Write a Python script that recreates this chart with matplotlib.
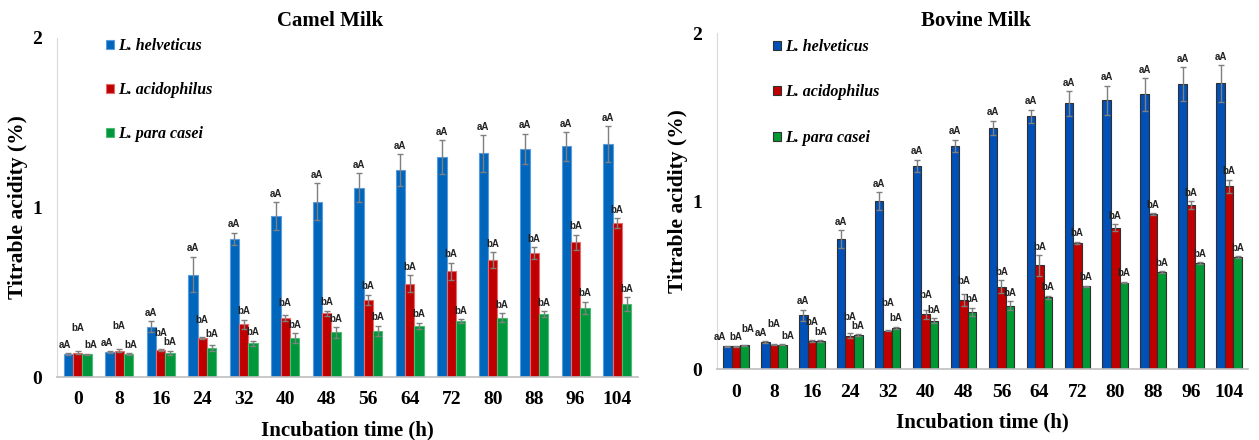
import matplotlib
matplotlib.use("Agg")
import matplotlib.pyplot as plt
import numpy as np

# ---------------- data ----------------
hours = ["0", "8", "16", "24", "32", "40", "48", "56", "64", "72", "80", "88", "96", "104"]
series_names = ["L. helveticus", "L. acidophilus", "L. para casei"]

camel_helv = [0.135, 0.149, 0.297, 0.604, 0.816, 0.950, 1.034, 1.117, 1.220, 1.297, 1.319, 1.347, 1.360, 1.376]
camel_acid = [0.143, 0.155, 0.162, 0.232, 0.311, 0.347, 0.376, 0.455, 0.549, 0.624, 0.689, 0.731, 0.796, 0.907]
camel_para = [0.133, 0.135, 0.143, 0.170, 0.198, 0.228, 0.263, 0.273, 0.303, 0.329, 0.350, 0.370, 0.408, 0.432]
camel_helv_err = [0.005, 0.005, 0.034, 0.105, 0.035, 0.080, 0.110, 0.085, 0.093, 0.100, 0.107, 0.089, 0.085, 0.105]
camel_acid_err = [0.010, 0.010, 0.006, 0.005, 0.026, 0.016, 0.016, 0.030, 0.050, 0.050, 0.048, 0.036, 0.044, 0.030]
camel_para_err = [0.005, 0.005, 0.012, 0.016, 0.016, 0.030, 0.030, 0.030, 0.018, 0.012, 0.026, 0.018, 0.036, 0.040]

bov_helv = [0.135, 0.161, 0.319, 0.774, 1.000, 1.208, 1.329, 1.435, 1.504, 1.581, 1.599, 1.635, 1.696, 1.700]
bov_acid = [0.135, 0.143, 0.167, 0.198, 0.228, 0.325, 0.413, 0.490, 0.617, 0.752, 0.841, 0.923, 0.976, 1.087]
bov_para = [0.141, 0.145, 0.167, 0.202, 0.246, 0.288, 0.339, 0.377, 0.427, 0.492, 0.514, 0.579, 0.631, 0.667]
bov_helv_err = [0.003, 0.004, 0.034, 0.054, 0.052, 0.038, 0.036, 0.044, 0.040, 0.073, 0.087, 0.097, 0.101, 0.109]
bov_acid_err = [0.003, 0.003, 0.004, 0.016, 0.004, 0.028, 0.036, 0.038, 0.062, 0.005, 0.020, 0.004, 0.024, 0.040]
bov_para_err = [0.003, 0.003, 0.004, 0.005, 0.006, 0.016, 0.026, 0.026, 0.010, 0.005, 0.005, 0.005, 0.005, 0.005]

letters = ["aA", "bA", "bA"]

# ---------------- style ----------------
serif = ["Liberation Serif", "DejaVu Serif"]
sans = ["Liberation Sans", "DejaVu Sans"]

fig = plt.figure(figsize=(12.59, 4.40), dpi=100)

panels = [
    dict(title="Camel Milk",
         vals=[camel_helv, camel_acid, camel_para],
         errs=[camel_helv_err, camel_acid_err, camel_para_err],
         rect=[57 / 1259, 1 - 377 / 440, 581 / 1259, 339 / 440],
         colors=["#0066BB", "#C00000", "#00963C"],
         edges=["#5A9BE0", "#E86A6A", "#4DBB70"],
         title_xy=(0.47, 1.05),
         leg_anchor=(0.084, 1.0), leg_spacing=1.75,
         ylab_x=-0.050, xlab_y=-0.127, xpad=10,
         # label placement tweaks for crowded labels: (series, group) -> value
         lift={(1, 0): 0.085, (1, 1): 0.085, (1, 2): 0.045, (1, 3): 0.05, (2, 3): 0.02, (1, 5): 0.025},
         shift={(0, 0): -0.08, (2, 0): 0.08, (0, 1): -0.06, (2, 1): 0.06}),
    dict(title="Bovine Milk",
         vals=[bov_helv, bov_acid, bov_para],
         errs=[bov_helv_err, bov_acid_err, bov_para_err],
         rect=[717 / 1259, 1 - 369 / 440, 531 / 1259, 336 / 440],
         colors=["#0050B8", "#C00000", "#009933"],
         edges=["#303030", "#303030", "#303030"],
         title_xy=(0.488, 1.036),
         leg_anchor=(0.105, 0.982), leg_spacing=1.84,
         ylab_x=-0.055, xlab_y=-0.128, xpad=11,
         lift={(2, 0): 0.045, (1, 1): 0.075, (1, 2): 0.057, (1, 3): 0.045, (1, 4): 0.11,
               (1, 5): 0.04, (1, 6): 0.025},
         shift={(0, 0): -0.2, (2, 0): 0.08, (0, 1): -0.12, (2, 1): 0.14}),
]

x = np.arange(len(hours))
w = 0.225
offsets = [-w, 0.0, w]

for p in panels:
    ax = fig.add_axes(p["rect"])
    handles = []
    for s in range(3):
        vals = np.array(p["vals"][s])
        errs = np.array(p["errs"][s])
        bars = ax.bar(x + offsets[s], vals, width=w, color=p["colors"][s],
                      edgecolor=p["edges"][s], linewidth=0.8, label=series_names[s],
                      yerr=errs, capsize=2.3,
                      error_kw=dict(ecolor="#7F7F7F", elinewidth=1.0, capthick=1.0))
        handles.append(bars)
        for g in range(len(x)):
            y = vals[g] + errs[g] + 0.02 + p["lift"].get((s, g), 0.0)
            xx = x[g] + offsets[s] + p["shift"].get((s, g), 0.0)
            ax.text(xx, y, letters[s], ha="center", va="bottom",
                    fontsize=7, fontweight="bold", family=sans, color="#222222")

    ax.set_xlim(-0.5, len(x) - 0.5)
    ax.set_ylim(0, 2)
    ax.set_yticks([0, 1, 2])
    ax.set_yticklabels(["0", "1", "2"])
    ax.set_xticks(x)
    ax.set_xticklabels(hours)
    for lab in ax.get_xticklabels() + ax.get_yticklabels():
        lab.set_family(serif)
        lab.set_fontweight("bold")
        lab.set_fontsize(14)
    ax.tick_params(axis="x", length=0, pad=p["xpad"])
    ax.tick_params(axis="y", length=0, pad=11)

    for side in ["top", "right"]:
        ax.spines[side].set_visible(False)
    ax.spines["left"].set_color("#D9D9D9")
    ax.spines["bottom"].set_color("#BFBFBF")
    ax.spines["bottom"].set_linewidth(1.2)

    ax.set_ylabel("Titrable acidity (%)", family=serif, fontweight="bold", fontsize=15.5)
    ax.yaxis.set_label_coords(p["ylab_x"], 0.5)
    ax.set_xlabel("Incubation time (h)", family=serif, fontweight="bold", fontsize=15)
    ax.xaxis.set_label_coords(0.5, p["xlab_y"])

    ax.text(p["title_xy"][0], p["title_xy"][1], p["title"], transform=ax.transAxes,
            ha="center", va="center", family=serif, fontweight="bold", fontsize=15)

    ax.legend(handles=handles, loc="upper left", bbox_to_anchor=p["leg_anchor"],
              frameon=False, borderpad=0, borderaxespad=0,
              handlelength=0.5, handleheight=0.5, handletextpad=0.25,
              labelspacing=p["leg_spacing"],
              prop=dict(family=serif, weight="bold", style="italic", size=11.5))

fig.savefig("out.png", dpi=100)
